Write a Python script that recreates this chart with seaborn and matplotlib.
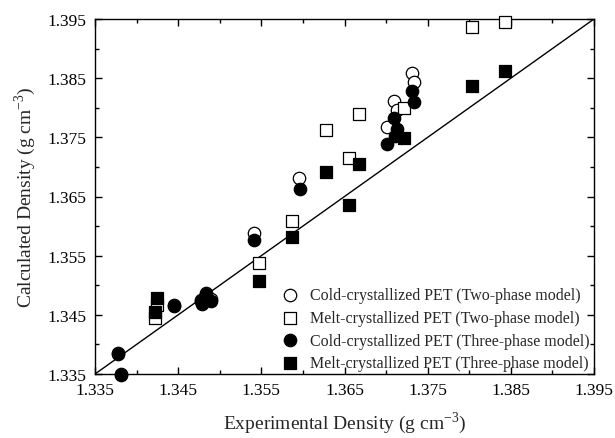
import matplotlib
matplotlib.use("Agg")
import matplotlib.pyplot as plt
from matplotlib.ticker import FixedLocator, FormatStrFormatter
import seaborn as sns
import pandas as pd

# Cold-crystallized PET, two-phase model
cold_two_exp = [1.3378, 1.3381, 1.3445, 1.3477, 1.3479, 1.3483, 1.3489, 1.3541,
                1.3595, 1.3701, 1.3710, 1.3713, 1.3731, 1.3734]
cold_two_calc = [1.3386, 1.3350, 1.3467, 1.3475, 1.3470, 1.3487, 1.3477, 1.3588,
                 1.3681, 1.3767, 1.3811, 1.3796, 1.3859, 1.3843]

# Melt-crystallized PET, two-phase model
melt_two_exp = [1.3422, 1.3425, 1.3547, 1.3587, 1.3628, 1.3655, 1.3667, 1.3722,
                1.3803, 1.3843]
melt_two_calc = [1.3445, 1.3467, 1.3538, 1.3609, 1.3762, 1.3715, 1.3789, 1.3800,
                 1.3936, 1.3945]

# Cold-crystallized PET, three-phase model
cold_three_exp = [1.3378, 1.3381, 1.3445, 1.3477, 1.3479, 1.3483, 1.3489, 1.3541,
                  1.3596, 1.3701, 1.3710, 1.3711, 1.3713, 1.3731, 1.3734]
cold_three_calc = [1.3384, 1.3348, 1.3465, 1.3473, 1.3468, 1.3485, 1.3473, 1.3576,
                   1.3663, 1.3739, 1.3783, 1.3752, 1.3764, 1.3828, 1.3810]

# Melt-crystallized PET, three-phase model
melt_three_exp = [1.3422, 1.3425, 1.3547, 1.3587, 1.3628, 1.3655, 1.3667, 1.3722,
                  1.3803, 1.3843]
melt_three_calc = [1.3455, 1.3478, 1.3507, 1.3582, 1.3691, 1.3636, 1.3705, 1.3749,
                   1.3837, 1.3862]

labels = ["Cold-crystallized PET (Two-phase model)",
          "Melt-crystallized PET (Two-phase model)",
          "Cold-crystallized PET (Three-phase model)",
          "Melt-crystallized PET (Three-phase model)"]

axis_range = [1.335, 1.395]
major_ticks = [1.335, 1.345, 1.355, 1.365, 1.375, 1.385, 1.395]
minor_ticks = [1.340, 1.350, 1.360, 1.370, 1.380, 1.390]

sns.set_style("ticks")
plt.rcParams["font.family"] = ["Liberation Serif", "DejaVu Serif"]
plt.rcParams["mathtext.fontset"] = "custom"
plt.rcParams["mathtext.rm"] = "Liberation Serif"

fig = plt.figure(figsize=(6.15, 4.39), dpi=100)
ax = fig.add_axes([95 / 615, 1 - 375 / 439, 499 / 615, 355 / 439])

# y = x reference line
sns.lineplot(x=axis_range, y=axis_range, ax=ax, color="black", lw=1.0, zorder=1)

series = [
    (cold_two_exp, cold_two_calc, "o", "white", 80),
    (melt_two_exp, melt_two_calc, "s", "white", 65),
    (cold_three_exp, cold_three_calc, "o", "black", 80),
    (melt_three_exp, melt_three_calc, "s", "black", 65),
]
for (xs, ys, mk, fc, size), lab in zip(series, labels):
    df = pd.DataFrame({"exp": xs, "calc": ys})
    sns.scatterplot(data=df, x="exp", y="calc", ax=ax, marker=mk, s=size,
                    facecolor=fc, edgecolor="black", linewidth=0.9,
                    label=lab, clip_on=False, zorder=3)

ax.set_xlim(*axis_range)
ax.set_ylim(*axis_range)
for axis in (ax.xaxis, ax.yaxis):
    axis.set_major_locator(FixedLocator(major_ticks))
    axis.set_minor_locator(FixedLocator(minor_ticks))
    axis.set_major_formatter(FormatStrFormatter("%.3f"))
ax.tick_params(which="both", direction="in", top=True, right=True,
               labelsize=12.5, colors="black", width=1.0)
ax.tick_params(which="major", length=5, pad=6)
ax.tick_params(which="minor", length=3)
for sp in ax.spines.values():
    sp.set_linewidth(1.0)
    sp.set_color("black")

ax.set_xlabel(r"Experimental Density (g cm$^{-3}$)", fontsize=14, labelpad=8)
ax.set_ylabel(r"Calculated Density (g cm$^{-3}$)", fontsize=14, labelpad=7)

leg = ax.legend(loc="lower right", bbox_to_anchor=(1.0, -0.006), frameon=False,
                fontsize=11.5, handletextpad=0.6, labelspacing=0.42,
                borderaxespad=0.1, handlelength=1.3, borderpad=0.2)

fig.savefig("out.png", dpi=100)
